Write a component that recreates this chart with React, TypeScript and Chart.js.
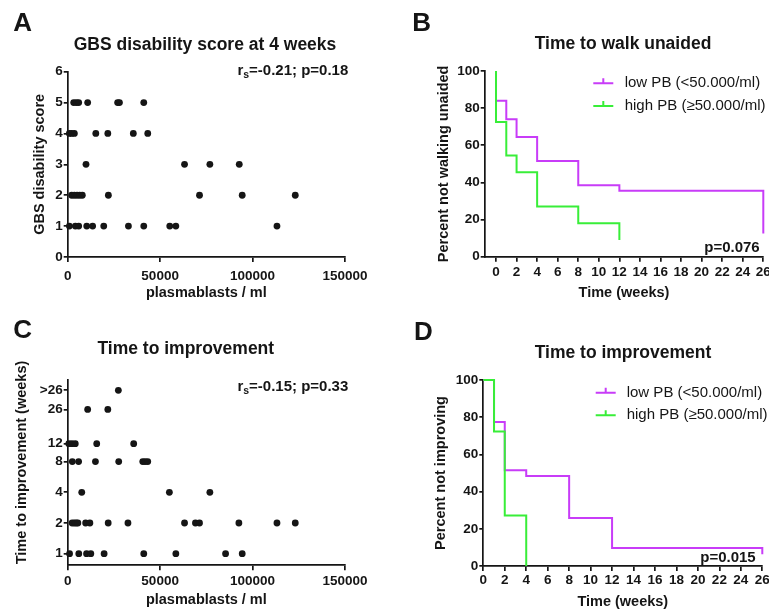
import React, { useEffect, useRef } from 'react';
import { Chart, registerables } from 'chart.js';

Chart.register(...registerables);

// ---------------- Panel A: GBS disability score at 4 weeks ----------------
const gbsScoreLevels = [5, 4, 3, 2, 1];
const gbsPlasmablastsByScore = [
  [3250, 4700, 5950, 10800, 27000, 28000, 41150],
  [900, 2150, 3600, 15200, 21700, 35500, 43300],
  [9900, 63200, 76900, 92800],
  [2150, 3600, 5050, 6500, 7900, 22000, 71300, 94400, 123100],
  [900, 4150, 5950, 10300, 13500, 19500, 32850, 41150, 55200, 58500, 113200],
];
const gbsScoreTicks = [0, 1, 2, 3, 4, 5, 6];
const plasmaTicks = [0, 50000, 100000, 150000];
const gbsStatRs = '-0.21';
const gbsStatP = '0.18';

// ---------------- Panel C: Time to improvement (scatter) ----------------
const improvementWeekLevels = [40, 26, 12, 8, 4, 2, 1]; // 40 = ">26"
const improvementPlasmablastsByWeek = [
  [27400],
  [10800, 21700],
  [600, 2300, 4100, 15700, 35700],
  [2500, 5900, 15000, 27600, 40600, 41900, 43300],
  [7600, 55000, 76900],
  [2400, 3600, 4600, 5500, 9700, 12000, 21900, 32600, 63200, 69100, 71300, 92600, 113200, 123100],
  [1000, 6000, 10200, 12500, 19700, 41150, 58500, 85400, 94400],
];
const improvementTickValues = [1, 2, 4, 8, 12, 26, 40];
const improvementTickLabels = ['1', '2', '4', '8', '12', '26', '>26'];
const improvementStatRs = '-0.15';
const improvementStatP = '0.33';

// ---------------- Panel B: Time to walk unaided (Kaplan-Meier) ----------------
const walkLowTimes = [0, 0, 1, 2, 4, 8, 12, 26];
const walkLowPercent = [100, 84, 74, 64.5, 51.5, 38.5, 35.5, 12.5];
const walkHighTimes = [0, 0, 1, 2, 4, 8, 12];
const walkHighPercent = [100, 72.5, 54.5, 45.5, 27, 18, 9];
const walkP = '0.076';

// ---------------- Panel D: Time to improvement (Kaplan-Meier) ----------------
const impLowTimes = [0, 1, 2, 4, 8, 12, 26];
const impLowPercent = [100, 77.4, 51.5, 48.4, 25.8, 9.7, 6.3];
const impHighTimes = [0, 1, 2, 4];
const impHighPercent = [100, 72.3, 27.1, 0];
const impP = '0.015';

const weekTicks = [0, 2, 4, 6, 8, 10, 12, 14, 16, 18, 20, 22, 24, 26];
const percentTicks = [0, 20, 40, 60, 80, 100];
const lowLabel = 'low PB (<50.000/ml)';
const highLabel = 'high PB (\u226550.000/ml)';

// ---------------- styling ----------------
const FONT = "'Liberation Sans', Arial, Helvetica, sans-serif";
const INK = '#151515';
const LOW_COLOR = '#C83CF8';
const HIGH_COLOR = '#38EE38';

function makeScale(o: any) {
  return {
    type: o.type || 'linear',
    min: o.min,
    max: o.max,
    afterBuildTicks: (s: any) => {
      s.ticks = o.ticks.map((v: number) => ({ value: v }));
    },
    afterFit: (s: any) => {
      if (o.isY) {
        s.width = o.size;
        s.paddingTop = 0;
        s.paddingBottom = 0;
      } else {
        s.height = o.size;
        s.paddingLeft = 0;
        s.paddingRight = 0;
      }
    },
    grid: {
      display: true,
      drawOnChartArea: false,
      drawTicks: true,
      tickLength: o.isY ? 4 : 5,
      color: INK,
      lineWidth: 1.7,
    },
    border: { display: true, color: INK, width: 1.7 },
    ticks: {
      color: INK,
      font: { family: FONT, size: 13.5, weight: 'bold' },
      padding: o.tickPad,
      autoSkip: false,
      maxRotation: 0,
      callback: o.label || ((v: any) => String(v)),
    },
    title: {
      display: o.hideTitle ? false : true,
      text: o.title,
      color: INK,
      font: { family: FONT, size: 14.5, weight: 'bold' },
      padding: 0,
    },
  };
}

const panelDecor = {
  id: 'panelDecor',
  afterDraw(chart: any, _args: any, opts: any) {
    const ctx: CanvasRenderingContext2D = chart.ctx;
    ctx.save();
    ctx.fillStyle = INK;
    ctx.textBaseline = 'alphabetic';
    // panel letter
    ctx.textAlign = 'left';
    ctx.font = `bold 26px ${FONT}`;
    ctx.fillText(opts.letter, opts.letterX, opts.letterY);
    // title
    ctx.textAlign = 'center';
    ctx.font = `bold 17.5px ${FONT}`;
    ctx.fillText(opts.title, opts.titleX, opts.titleY);
    // optional free-standing y-axis title
    if (opts.yTitle) {
      ctx.save();
      ctx.translate(opts.yTitleX, opts.yTitleY);
      ctx.rotate(-Math.PI / 2);
      ctx.textAlign = 'center';
      ctx.textBaseline = 'middle';
      ctx.font = `bold 14.5px ${FONT}`;
      ctx.fillText(opts.yTitle, 0, 0);
      ctx.restore();
    }
    // statistics note
    if (opts.rs) {
      ctx.textAlign = 'left';
      const big = `bold 15px ${FONT}`;
      const small = `bold 10.5px ${FONT}`;
      ctx.font = big;
      const w1 = ctx.measureText('r').width;
      const rest = `=${opts.rs}; p=${opts.p}`;
      const w3 = ctx.measureText(rest).width;
      ctx.font = small;
      const w2 = ctx.measureText('s').width;
      let x = opts.noteRight - (w1 + w2 + w3);
      ctx.font = big;
      ctx.fillText('r', x, opts.noteY);
      x += w1;
      ctx.font = small;
      ctx.fillText('s', x, opts.noteY + 3.5);
      x += w2;
      ctx.font = big;
      ctx.fillText(rest, x, opts.noteY);
    } else if (opts.p) {
      ctx.textAlign = 'right';
      ctx.font = `bold 15px ${FONT}`;
      ctx.fillText(`p=${opts.p}`, opts.noteRight, opts.noteY);
    }
    // legend
    if (opts.legend) {
      const L = opts.legend;
      const sets = chart.data.datasets;
      const order = [...sets].sort((a: any, b: any) => a.legendIndex - b.legendIndex);
      order.forEach((ds: any, i: number) => {
        const y = L.y + i * L.gap;
        ctx.strokeStyle = ds.borderColor;
        ctx.lineWidth = 2;
        ctx.beginPath();
        ctx.moveTo(L.x1, y);
        ctx.lineTo(L.x2, y);
        const mid = (L.x1 + L.x2) / 2;
        ctx.moveTo(mid, y);
        ctx.lineTo(mid, y - 5);
        ctx.stroke();
        ctx.fillStyle = INK;
        ctx.textAlign = 'left';
        ctx.textBaseline = 'middle';
        ctx.font = `15px ${FONT}`;
        ctx.fillText(ds.label, L.textX, y);
      });
    }
    ctx.restore();
  },
};

function scatterConfig(p: any) {
  const points: any[] = [];
  p.levels.forEach((lv: number, i: number) => {
    p.xsByLevel[i].forEach((x: number) => points.push({ x, y: lv }));
  });
  return {
    type: 'scatter',
    data: {
      datasets: [
        {
          data: points,
          pointRadius: 3.4,
          pointBackgroundColor: INK,
          pointBorderWidth: 0,
          showLine: false,
          clip: false,
        },
      ],
    },
    options: {
      animation: false,
      responsive: false,
      devicePixelRatio: 1,
      events: [],
      layout: { padding: p.padding },
      plugins: { legend: { display: false }, tooltip: { enabled: false }, panelDecor: p.decor },
      scales: { x: p.x, y: p.y },
    },
    plugins: [panelDecor],
  };
}

function kmConfig(p: any) {
  const mk = (times: number[], vals: number[]) => times.map((t, i) => ({ x: t, y: vals[i] }));
  return {
    type: 'line',
    data: {
      datasets: [
        {
          label: lowLabel,
          legendIndex: 0,
          data: mk(p.lowT, p.lowV),
          borderColor: LOW_COLOR,
          borderWidth: 2,
          stepped: true,
          pointRadius: 0,
          fill: false,
          clip: false,
          order: 1,
        },
        {
          label: highLabel,
          legendIndex: 1,
          data: mk(p.highT, p.highV),
          borderColor: HIGH_COLOR,
          borderWidth: 2,
          stepped: true,
          pointRadius: 0,
          fill: false,
          clip: false,
          order: 0,
        },
      ],
    },
    options: {
      animation: false,
      responsive: false,
      devicePixelRatio: 1,
      events: [],
      layout: { padding: p.padding },
      plugins: { legend: { display: false }, tooltip: { enabled: false }, panelDecor: p.decor },
      scales: { x: p.x, y: p.y },
    },
    plugins: [panelDecor],
  };
}

const configA = () =>
  scatterConfig({
    levels: gbsScoreLevels,
    xsByLevel: gbsPlasmablastsByScore,
    padding: { left: 31.3, right: 39, top: 71.7, bottom: 5 },
    x: makeScale({ min: 0, max: 150000, ticks: plasmaTicks, title: 'plasmablasts / ml', size: 45, tickPad: 6.5 }),
    y: makeScale({ min: 0, max: 6, ticks: gbsScoreTicks, title: 'GBS disability score', size: 36.4, isY: true, tickPad: 1 }),
    decor: {
      letter: 'A', letterX: 13.3, letterY: 30.7,
      title: 'GBS disability score at 4 weeks', titleX: 205, titleY: 50,
      rs: gbsStatRs, p: gbsStatP, noteRight: 348.3, noteY: 74.5,
    },
  });

const configC = () =>
  scatterConfig({
    levels: improvementWeekLevels,
    xsByLevel: improvementPlasmablastsByWeek,
    padding: { left: 13, right: 39, top: 73, bottom: 5 },
    x: makeScale({ min: 0, max: 150000, ticks: plasmaTicks, title: 'plasmablasts / ml', size: 43.7, tickPad: 3.3 }),
    y: makeScale({
      type: 'logarithmic', min: 0.77, max: 50.5, ticks: improvementTickValues,
      label: (v: number) => improvementTickLabels[improvementTickValues.indexOf(v)] ?? '',
      title: 'Time to improvement (weeks)', hideTitle: true, size: 54.7, isY: true, tickPad: 1,
    }),
    decor: {
      letter: 'C', letterX: 13.3, letterY: 30.7,
      title: 'Time to improvement', titleX: 185.8, titleY: 46.7,
      yTitle: 'Time to improvement (weeks)', yTitleX: 21.7, yTitleY: 155.5,
      rs: improvementStatRs, p: improvementStatP, noteRight: 348.3, noteY: 83.5,
    },
  });

const configB = () =>
  kmConfig({
    lowT: walkLowTimes, lowV: walkLowPercent, highT: walkHighTimes, highV: walkHighPercent,
    padding: { left: 51.3, right: 5.7, top: 71, bottom: 5 },
    x: makeScale({ min: -1.1, max: 26, ticks: weekTicks, title: 'Time (weeks)', size: 45.3, tickPad: 2 }),
    y: makeScale({ min: 0, max: 100, ticks: percentTicks, title: 'Percent not walking unaided', size: 49.4, isY: true, tickPad: 1 }),
    decor: {
      letter: 'B', letterX: 28.3, letterY: 30.7,
      title: 'Time to walk unaided', titleX: 239, titleY: 49.3,
      p: walkP, noteRight: 375.7, noteY: 251.7,
      legend: { x1: 209.3, x2: 229.3, y: 83.3, gap: 22.7, textX: 240.7 },
    },
  });

const configD = () =>
  kmConfig({
    lowT: impLowTimes, lowV: impLowPercent, highT: impHighTimes, highV: impHighPercent,
    padding: { left: 48, right: 6.7, top: 73, bottom: 3.3 },
    x: makeScale({ min: 0, max: 26, ticks: weekTicks, title: 'Time (weeks)', size: 44.7, tickPad: 1.6 }),
    y: makeScale({ min: 0, max: 100, ticks: percentTicks, title: 'Percent not improving', size: 51.3, isY: true, tickPad: 1 }),
    decor: {
      letter: 'D', letterX: 30, letterY: 33.3,
      title: 'Time to improvement', titleX: 239, titleY: 50.7,
      p: impP, noteRight: 371.7, noteY: 255,
      legend: { x1: 211.7, x2: 231.7, y: 85.7, gap: 22.6, textX: 242.7 },
    },
  });

function Panel(props: { left: number; top: number; width: number; height: number; make: () => any }) {
  const ref = useRef<HTMLCanvasElement>(null);
  useEffect(() => {
    const chart = new Chart(ref.current as HTMLCanvasElement, props.make());
    return () => chart.destroy();
  }, []);
  return (
    <canvas
      ref={ref}
      width={props.width}
      height={props.height}
      style={{ position: 'absolute', left: props.left, top: props.top, width: props.width, height: props.height }}
    />
  );
}

export default function App() {
  return (
    <div style={{ position: 'absolute', left: 0, top: 0, width: 769, height: 614, background: '#fff', overflow: 'hidden' }}>
      <Panel left={0} top={0} width={384} height={307} make={configA} />
      <Panel left={384} top={0} width={385} height={307} make={configB} />
      <Panel left={0} top={307} width={384} height={307} make={configC} />
      <Panel left={384} top={307} width={385} height={307} make={configD} />
    </div>
  );
}
